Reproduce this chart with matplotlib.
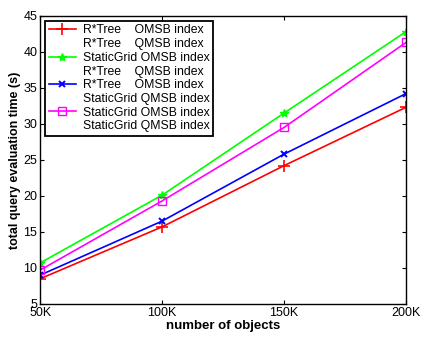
import numpy as np
import matplotlib.pyplot as plt
from matplotlib.lines import Line2D

plt.rcParams['font.family'] = ['Liberation Sans', 'DejaVu Sans']

objects = [50, 100, 150, 200]
tick_labels = ['50K', '100K', '150K', '200K']

rtree_omsb = [8.5, 15.7, 24.2, 32.3]
grid_omsb = [10.7, 20.1, 31.5, 42.8]
rtree_qmsb = [9.0, 16.5, 25.8, 34.2]
grid_qmsb = [9.7, 19.3, 29.5, 41.3]

labels = ['R*Tree    OMSB index',
          'R*Tree    QMSB index',
          'StaticGrid OMSB index',
          'R*Tree    QMSB index',
          'R*Tree    OMSB index',
          'StaticGrid QMSB index',
          'StaticGrid OMSB index',
          'StaticGrid QMSB index']

fig = plt.figure(figsize=(4.22, 3.37), dpi=100)
ax = fig.add_axes([0.095, 0.098, 0.867, 0.855])

l1, = ax.plot(objects, rtree_omsb, color='red', marker='+', ms=8, mew=1.2, lw=1.2)
l2, = ax.plot(objects, grid_omsb, color='#00ff00', marker='*', ms=6, mew=1.0, lw=1.2)
l3, = ax.plot(objects, rtree_qmsb, color='blue', marker='x', ms=5, mew=1.4, lw=1.2)
l4, = ax.plot(objects, grid_qmsb, color='magenta', marker='s', ms=6, mfc='none', mew=1.0, lw=1.2)

blank = Line2D([], [], color='none')
handles = [l1, blank, l2, blank, l3, blank, l4, blank]
leg = ax.legend(handles, labels, loc='upper left', fontsize=8.8, frameon=True,
                fancybox=False, edgecolor='black', framealpha=1,
                borderpad=0.3, labelspacing=0.14, handlelength=2.2,
                handletextpad=0.6, borderaxespad=0.4)
leg.get_frame().set_linewidth(1.3)

ax.set_xlim(50, 200)
ax.set_ylim(5, 45)
ax.set_xticks(objects)
ax.set_xticklabels(tick_labels)
ax.set_yticks(np.arange(5, 46, 5))
ax.tick_params(direction='in', top=True, right=True, labelsize=9, length=3, pad=2)
for s in ax.spines.values():
    s.set_linewidth(1.0)

ax.set_xlabel('number of objects', fontsize=9.5, fontweight='bold', labelpad=1)
ax.set_ylabel('total query evaluation time (s)', fontsize=9, fontweight='bold', labelpad=2)

fig.savefig('out.png', dpi=100)
